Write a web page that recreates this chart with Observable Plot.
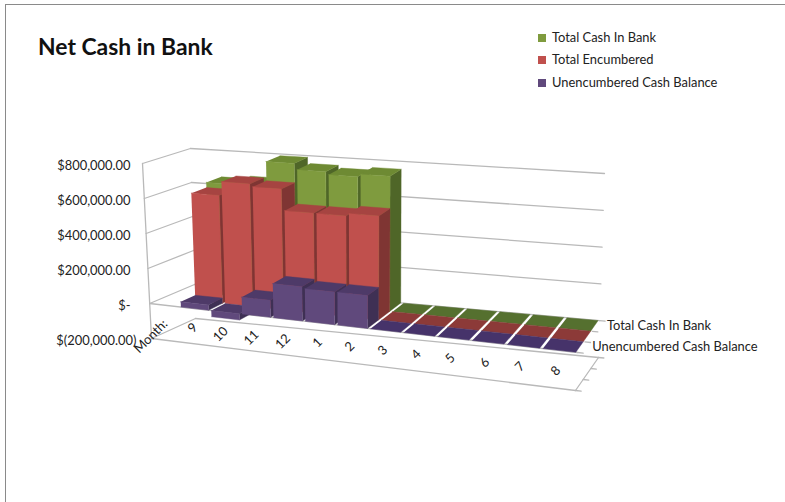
<!DOCTYPE html>
<html><head><meta charset="utf-8">
<script src="https://cdn.jsdelivr.net/npm/d3@7"></script>
<script src="https://cdn.jsdelivr.net/npm/@observablehq/plot@0.6"></script>
<style>
html,body{margin:0;padding:0;background:#fff;overflow:hidden}
body{width:785px;height:502px;position:relative;font-family:Lato,sans-serif}
#frame{position:absolute;left:5px;top:4px;width:780px;height:498px;border-top:1px solid #8a8a8a;border-left:1px solid #8a8a8a;pointer-events:none}
#head{position:relative;height:100px}
#title{position:absolute;left:38px;top:33px;font-size:22.9px;font-weight:700;color:#111;line-height:27px}
#legend{position:absolute;left:538px;top:26px;font-size:12.9px;color:#222}
#legend div{height:22.4px;line-height:22.4px;white-space:nowrap}
#legend span{display:inline-block;width:8px;height:8px;margin-right:6px}
svg{display:block}
</style></head><body>
<div id="frame"></div>
<div id="head"><div id="title">Net Cash in Bank</div><div id="legend"></div></div>
<div id="chart"></div>
<script>
// ---- data ----
const months = ["Month:","9","10","11","12","1","2","3","4","5","6","7","8"];
const totalCash   = [null,645000,660000,790000,755000,740000,755000,0,0,0,0,0,0];
const encumbered  = [null,615000,695000,680000,560000,560000,575000,0,0,0,0,0,0];
const unencumbered= [null,30000,-35000,95000,190000,180000,180000,0,0,0,0,0,0];
const seriesNames = ["Total Cash In Bank","Total Encumbered","Unencumbered Cash Balance"];
const axisSeriesLabels = ["Total Cash In Bank","Unencumbered Cash Balance"];
const valueTicks = [800000,600000,400000,200000,0,-200000];
const valueLabels = ["$800,000.00","$600,000.00","$400,000.00","$200,000.00","$-","$(200,000.00)"];

// ---- styles ----
const frontColors = ["#7f9b3e","#c0504d","#60497c"];
const topColors   = ["#6e8a33","#a64441","#4e3a68"];
const sideColors  = ["#4f6628","#7f3533","#3f3054"];
const flatColors  = ["#55702f","#8c3a38","#46336a"];
const gridColor = "#b9b9b9";

// ---- 3D view: corners of the plot box (front-left, front-right, back-right, back-left) ----
const wMin = -200000, wMax = 800000;
const bottomPlane = [[151,338],[575,390],[598,357],[195,318]];
const topPlane    = [[142,163],[585,200],[604,173],[190,148]];
const perspective = 0.11;
function plane(p,u,v){
  const s=u/(1+perspective*(1-u));
  const fx=p[0][0]+(p[1][0]-p[0][0])*s, fy=p[0][1]+(p[1][1]-p[0][1])*s;
  const bx=p[3][0]+(p[2][0]-p[3][0])*s, by=p[3][1]+(p[2][1]-p[3][1])*s;
  return [fx+(bx-fx)*v,fy+(by-fy)*v];
}
function project(u,v,w){
  const t=(w-wMin)/(wMax-wMin),[xb,yb]=plane(bottomPlane,u,v),[xt,yt]=plane(topPlane,u,v);
  return {x:xb+(xt-xb)*t,y:yb+(yt-yb)*t};
}

// ---- build polygons and lines from the data ----
const n = months.length, gap = 0.045;
const polys = [], lines = [];
let id = 0;
function poly(pts,color){const k=id++;pts.forEach(p=>polys.push({...p,id:k,color}));}
function line(a,b){const k=id++;lines.push({...a,id:k},{...b,id:k});}

[[totalCash,2],[encumbered,1],[unencumbered,0]].forEach(([vals,row])=>{
  const s = 2-row;
  vals.forEach((val,i)=>{
    if(val==null) return;
    const u0=(i+gap)/n,u1=(i+1-gap)/n,v0=row/3,v1=(row+1)/3;
    const hi=Math.max(val,0),lo=Math.min(val,0);
    if(val!==0){
      poly([project(u1,v0,lo),project(u1,v1,lo),project(u1,v1,hi),project(u1,v0,hi)],sideColors[s]);
    }
    poly([project(u0,v0,hi),project(u1,v0,hi),project(u1,v1,hi),project(u0,v1,hi)],val===0?flatColors[s]:topColors[s]);
    if(val!==0){
      poly([project(u0,v0,lo),project(u1,v0,lo),project(u1,v0,hi),project(u0,v0,hi)],frontColors[s]);
    }
  });
});

valueTicks.forEach(w=>{
  line(project(0,1,w),project(1,1,w));   // back wall
  line(project(0,0,w),project(0,1,w));   // side wall
});
line(project(0,0,wMin),project(0,0,wMax));
line(project(0,0,wMin),project(1,0,wMin));
line(project(1,0,wMin),project(1,1,wMin));
line(project(0,0,0),project(1,0,0));
[0,1,2,3].forEach(k=>{
  [wMin,0].forEach(w=>line(project(1,k/3,w),project(1.012,k/3,w)));
});

const yLabels = valueTicks.map((w,i)=>({w,label:valueLabels[i],...project(0,0,w)}));
const baseX = project(0,0,wMax).x-12;
const catLabels = months.map((m,i)=>({m,...project((i+.5)/n,0,(wMin+0)/2)}));
const serLabels = axisSeriesLabels.map(name=>{
  const row=2-seriesNames.indexOf(name);
  return {name,...project(1,(row+.5)/3,0)};
});

const chart = Plot.plot({
  width:785,height:402,margin:0,
  x:{domain:[0,785],range:[0,785],axis:null},
  y:{domain:[100,502],range:[0,402],axis:null},
  color:{type:"identity"},
  style:{fontFamily:"Lato,sans-serif",background:"#fff"},
  marks:[
    Plot.line(lines,{x:"x",y:"y",z:"id",stroke:gridColor,strokeWidth:1.3}),
    Plot.line(polys,{x:"x",y:"y",z:"id",fill:"color",stroke:"color",strokeWidth:0.4}),
    Plot.text(yLabels,{x:d=>d.w<0?baseX+6:baseX,y:"y",dy:2,text:"label",textAnchor:"end",fontSize:12.9,fill:"#222"}),
    Plot.text(catLabels,{x:"x",y:"y",dy:-1,text:"m",rotate:-45,textAnchor:"end",fontSize:12.9,fill:"#222"}),
    Plot.text(serLabels,{x:"x",y:"y",text:"name",textAnchor:"start",dx:11,fontSize:12.9,fill:"#222"})
  ]
});
document.getElementById("chart").append(chart);

const legend=document.getElementById("legend");
seriesNames.forEach((name,i)=>{
  const row=document.createElement("div");
  const sw=document.createElement("span");
  sw.style.background=frontColors[i];
  row.append(sw,name);
  legend.append(row);
});
</script>
</body></html>
